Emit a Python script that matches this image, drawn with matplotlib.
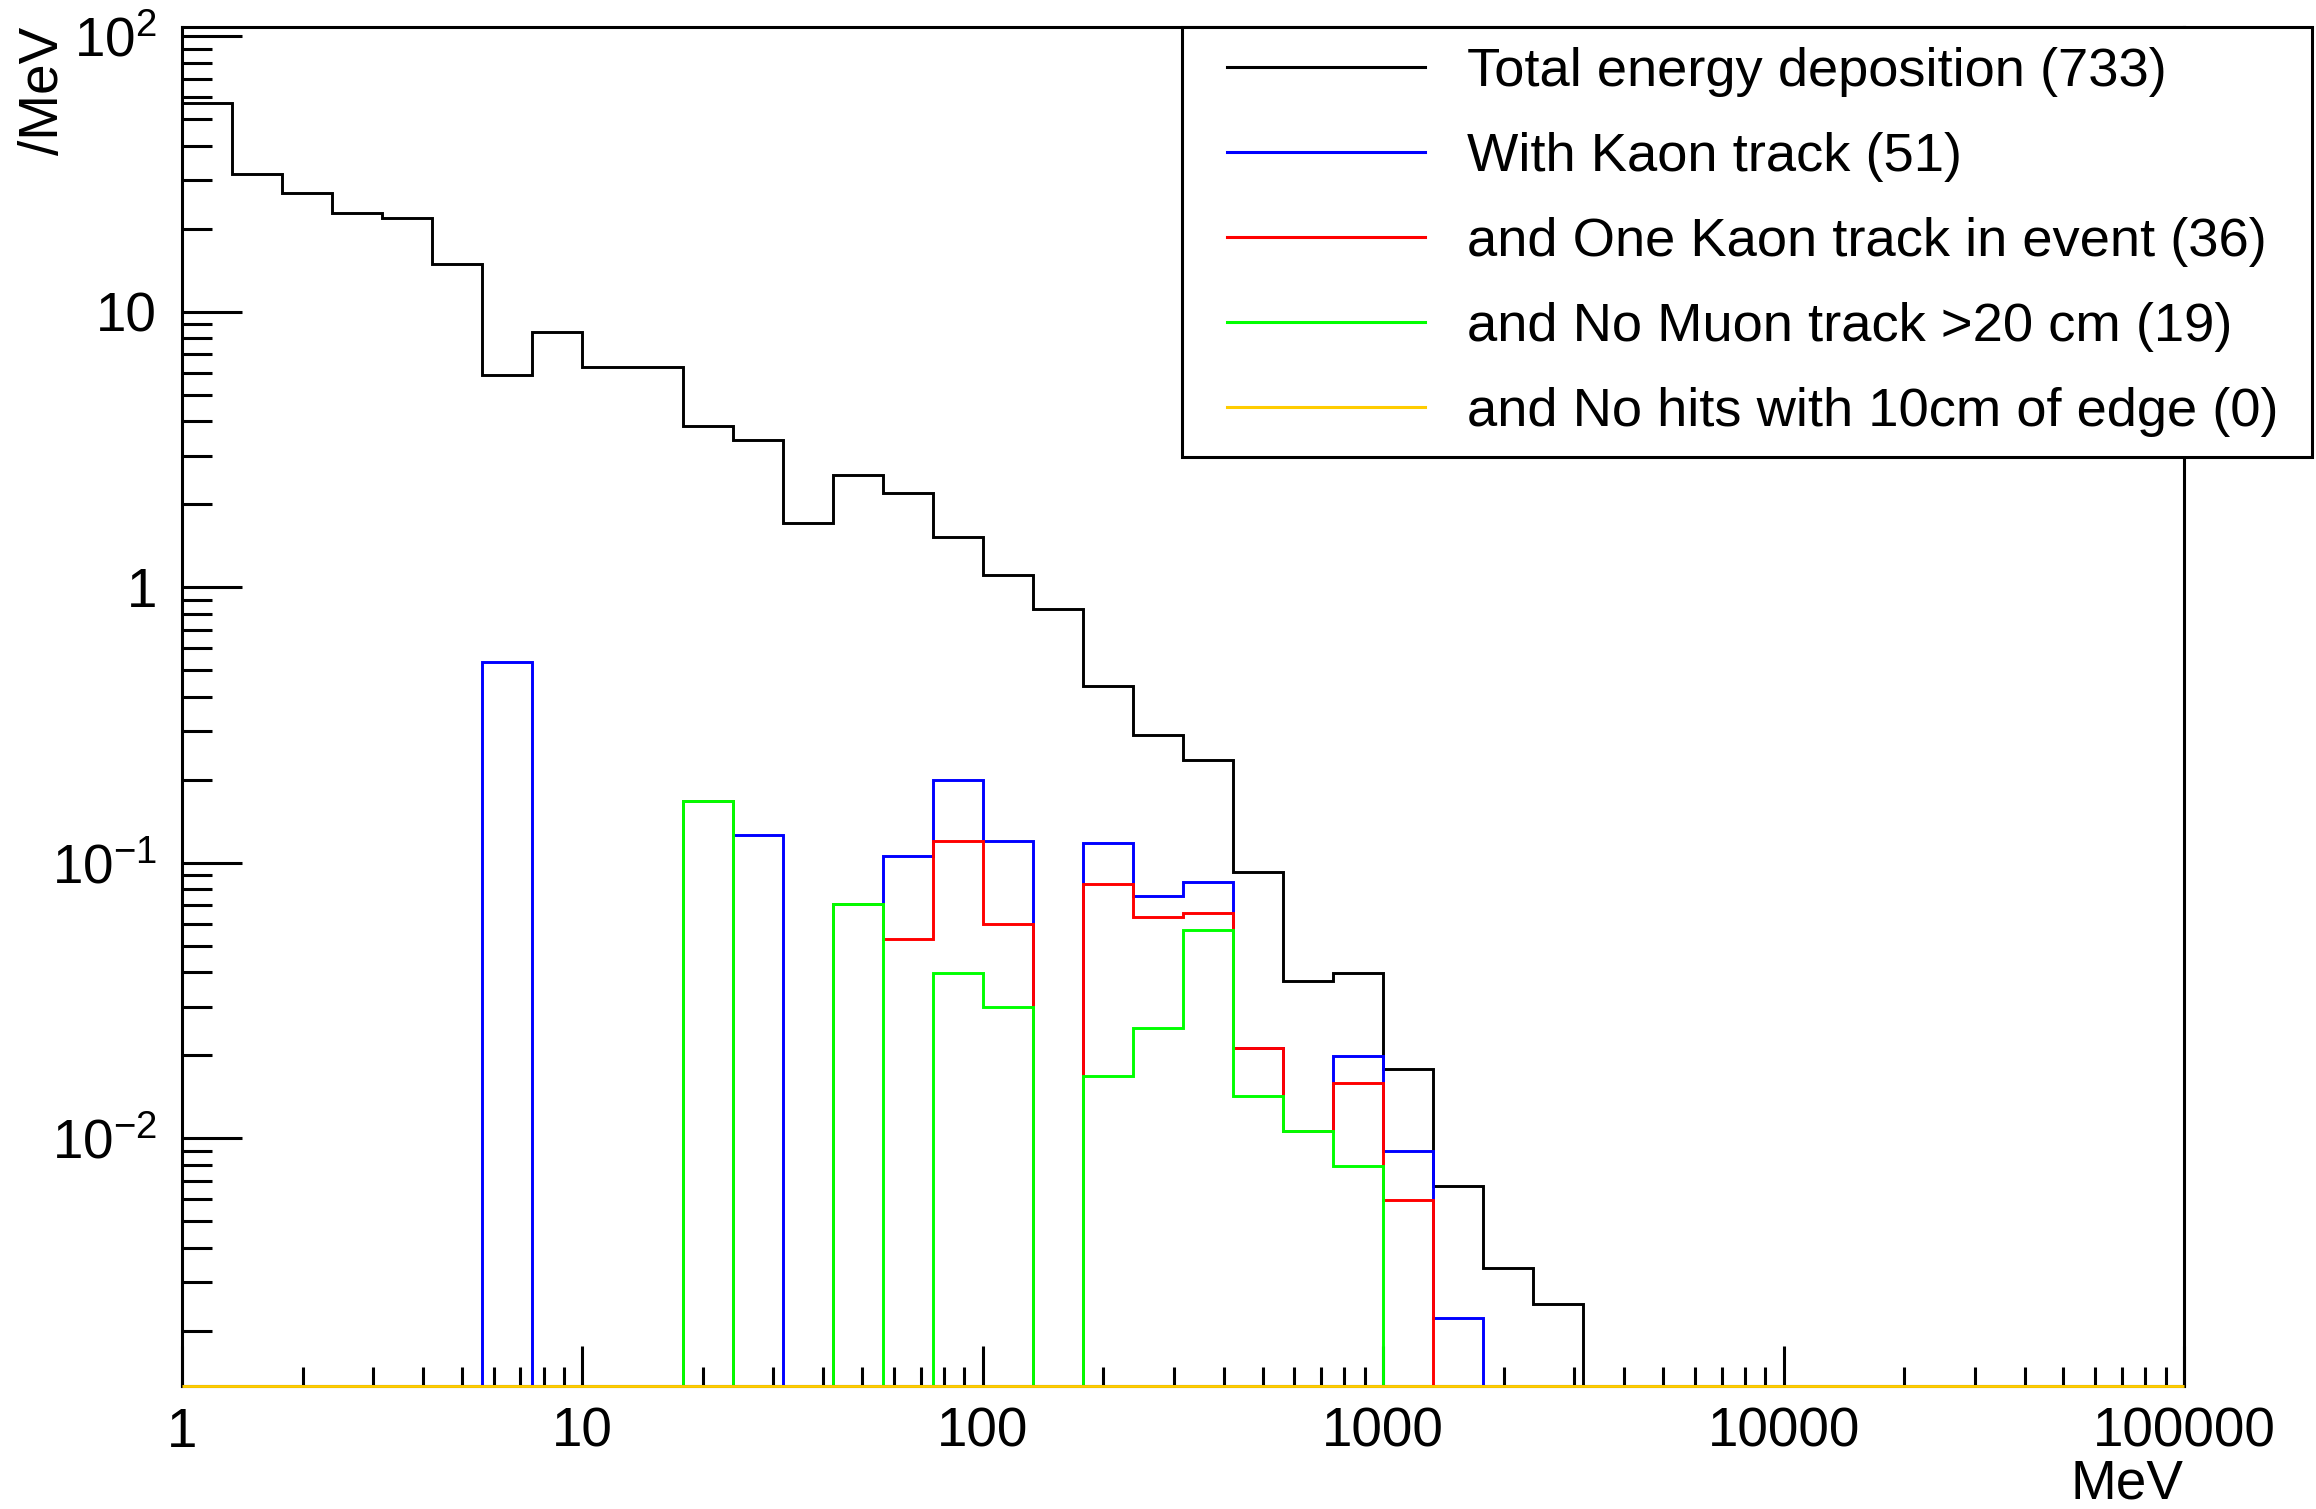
import numpy as np
import matplotlib
matplotlib.use("Agg")
import matplotlib.pyplot as plt
from matplotlib.lines import Line2D
from matplotlib.legend_handler import HandlerLine2D
from matplotlib.ticker import LogLocator, NullFormatter

plt.rcParams['font.family'] = ['Liberation Sans', 'DejaVu Sans']
plt.rcParams['mathtext.default'] = 'regular'

# 40 log bins, 8 per decade, 1 MeV .. 100000 MeV
bin_edges = np.logspace(0, 5, 41)

total = [57.1, 31.5, 27.0, 22.75, 21.8, 14.9, 5.87, 8.41, 6.30, 6.30,
         3.86, 3.41, 1.71, 2.56, 2.195, 1.52, 1.11, 0.832, 0.438, 0.29,
         0.2365, 0.0925, 0.0373, 0.0397, 0.0178, 0.0067, 0.00337, 0.0025, 0, 0,
         0, 0, 0, 0, 0, 0, 0, 0, 0, 0]
with_kaon = [0, 0, 0, 0, 0, 0, 0.534, 0, 0, 0,
             0.168, 0.126, 0, 0.071, 0.106, 0.2, 0.12, 0, 0.118, 0.0755,
             0.0853, 0.0213, 0.0106, 0.0199, 0.00896, 0.00223, 0, 0, 0, 0,
             0, 0, 0, 0, 0, 0, 0, 0, 0, 0]
one_kaon = [0, 0, 0, 0, 0, 0, 0, 0, 0, 0,
            0.168, 0, 0, 0.071, 0.053, 0.12, 0.0598, 0, 0.0838, 0.0633,
            0.0659, 0.0213, 0.0106, 0.0159, 0.00594, 0, 0, 0, 0, 0,
            0, 0, 0, 0, 0, 0, 0, 0, 0, 0]
no_muon = [0, 0, 0, 0, 0, 0, 0, 0, 0, 0,
           0.168, 0, 0, 0.071, 0, 0.0397, 0.0299, 0, 0.0168, 0.0252,
           0.0568, 0.0142, 0.0106, 0.00794, 0, 0, 0, 0, 0, 0,
           0, 0, 0, 0, 0, 0, 0, 0, 0, 0]
no_edge = [0] * 40

labels = ['Total energy deposition (733)',
          'With Kaon track (51)',
          'and One Kaon track in event (36)',
          'and No Muon track >20 cm (19)',
          'and No hits with 10cm of edge (0)']
colors = ['black', '#0000ff', '#ff0000', '#00ff00', '#ffcc00']

xticks = [1, 10, 100, 1000, 10000, 100000]
xticklabels = ['1', '10', '100', '1000', '10000', '100000']
yticks = [0.01, 0.1, 1, 10, 100]
yticklabels = ['$10^{-2}$', '$10^{-1}$', '1', '10', '$10^{2}$']

ymin, ymax = 0.00126, 108

fig = plt.figure(figsize=(23.16, 15.09), dpi=100)
ax = fig.add_axes([0.0786, 0.0815, 0.8644, 0.9006])

series = [total, with_kaon, one_kaon, no_muon, no_edge]
for i, vals in enumerate(series):
	# ROOT draws empty bins on the frame bottom
	v = np.maximum(np.asarray(vals, dtype=float), ymin)
	ax.stairs(v, bin_edges, baseline=ymin, color=colors[i], linewidth=2.1,
	          clip_on=False, zorder=3 if i == 4 else 2)

ax.set_xscale('log')
ax.set_yscale('log')
ax.set_xlim(1, 1e5)
ax.set_ylim(ymin, ymax)

ax.set_xticks(xticks, xticklabels)
ax.set_yticks(yticks, yticklabels)
ax.xaxis.set_minor_locator(LogLocator(base=10, subs=np.arange(2, 10), numticks=50))
ax.yaxis.set_minor_locator(LogLocator(base=10, subs=np.arange(2, 10), numticks=50))
ax.xaxis.set_minor_formatter(NullFormatter())
ax.yaxis.set_minor_formatter(NullFormatter())

ax.tick_params(axis='both', which='both', direction='in', width=2.2, labelsize=39.5,
               top=False, right=False)
ax.tick_params(axis='y', which='major', length=43, pad=18)
ax.tick_params(axis='y', which='minor', length=21.6)
ax.tick_params(axis='x', which='major', length=29, pad=15)
ax.tick_params(axis='x', which='minor', length=14)
for s in ax.spines.values():
	s.set_linewidth(2.2)

ax.set_xlabel('MeV', fontsize=39.5, loc='right')
ax.xaxis.set_label_coords(1.0, -0.0535)
ax.set_ylabel('/MeV', fontsize=39.5, loc='top')
ax.yaxis.set_label_coords(-0.056, 1.0)

handles = [Line2D([], [], color=c, linewidth=2.2) for c in colors]
fs = 39.2
leg = ax.legend(handles, labels, loc='upper left', mode='expand',
                bbox_to_anchor=(0.5104, 0.70, 0.4879, 0.2821),
                bbox_transform=fig.transFigure, borderaxespad=0,
                fontsize=fs, frameon=True, fancybox=False, shadow=False,
                framealpha=1, edgecolor='black',
                handlelength=4.1, handletextpad=0.77,
                borderpad=0.36, labelspacing=0.645,
                handler_map={Line2D: HandlerLine2D(xpad=0.46)})
leg.get_frame().set_linewidth(2.2)

fig.savefig('out.png', dpi=100)
